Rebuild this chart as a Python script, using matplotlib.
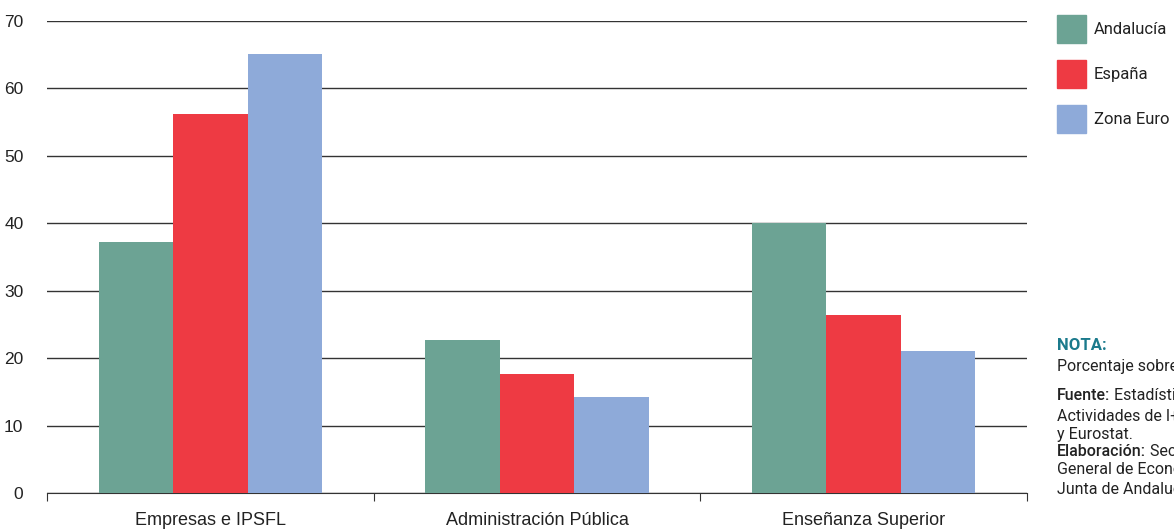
import matplotlib
matplotlib.use("Agg")
import matplotlib.pyplot as plt
import numpy as np

categories = ["Empresas e IPSFL", "Administración Pública", "Enseñanza Superior"]
series_names = ["Andalucía", "España", "Zona Euro"]
andalucia = [37.2, 22.7, 40.0]
espana = [56.2, 17.6, 26.4]
zona_euro = [65.1, 14.2, 21.1]
yticks = [0, 10, 20, 30, 40, 50, 60, 70]
colors = ["#6ca394", "#ee3a43", "#8eaad9"]

plt.rcParams["font.family"] = ["Roboto", "DejaVu Sans"]

fig = plt.figure(figsize=(11.74, 5.32), dpi=100)
ax = fig.add_axes([47/1174, 39/532, 980/1174, 472/532])

x = np.arange(len(categories))
w = 0.228
for i, (vals, c) in enumerate(zip([andalucia, espana, zona_euro], colors)):
    ax.bar(x + (i - 1) * w, vals, width=w, color=c, zorder=3, label=series_names[i])

ax.set_xlim(-0.5, 2.5)
ax.set_ylim(0, 70)
ax.set_yticks(yticks)
ax.set_yticklabels([str(v) for v in yticks], family=["Liberation Sans", "DejaVu Sans"])
ax.yaxis.grid(True, color="#333333", linewidth=1.0, zorder=0)
ax.tick_params(axis="y", length=0, labelsize=12.5, colors="#222222", pad=17)
for s in ["top", "right", "left"]:
    ax.spines[s].set_visible(False)
ax.spines["bottom"].set_color("#333333")
ax.set_xticks([-0.5, 0.5, 1.5, 2.5])
ax.set_xticklabels([])
ax.tick_params(axis="x", length=6, color="#333333", direction="out")
ax.set_xticks(x, minor=True)
ax.set_xticklabels(categories, minor=True, fontsize=13, color="#222222",
                   family=["Liberation Sans", "DejaVu Sans"])
ax.tick_params(axis="x", which="minor", length=0, pad=14)

# legend
ly = [29, 74, 119]
for name, c, yy in zip(series_names, colors, ly):
    fig.patches.append(plt.Rectangle((1057/1174, 1 - (yy + 14)/532), 29/1174, 28/532,
                                     transform=fig.transFigure, color=c, figure=fig))
    fig.text(1094/1174, 1 - yy/532, name, fontsize=12, va="center", ha="left", color="#222222")

# notes
fig.text(1057/1174, 1 - 345/532, "NOTA:", fontsize=12, color="#1b7a8c", fontweight="bold", va="center")
fig.text(1057/1174, 1 - 366/532, "Porcentaje sobre el total", fontsize=11.5, color="#222222", va="center")
lines = [(396, "Fuente:", " Estadística sobre"),
         (416, "", "Actividades de I+D (INE)"),
         (434, "", "y Eurostat."),
         (451, "Elaboración:", " Secretaría"),
         (470, "", "General de Economía."),
         (489, "", "Junta de Andalucía.")]
for yy, bold, rest in lines:
    if bold:
        t = fig.text(1057/1174, 1 - yy/532, bold, fontsize=11.5, color="#222222",
                     fontweight="medium", va="center")
        fig.canvas.draw()
        bb = t.get_window_extent()
        fig.text(bb.x1/1174, 1 - yy/532, rest, fontsize=11.5, color="#222222", va="center")
    else:
        fig.text(1057/1174, 1 - yy/532, rest, fontsize=11.5, color="#222222", va="center")

fig.savefig("out.png", dpi=100)
